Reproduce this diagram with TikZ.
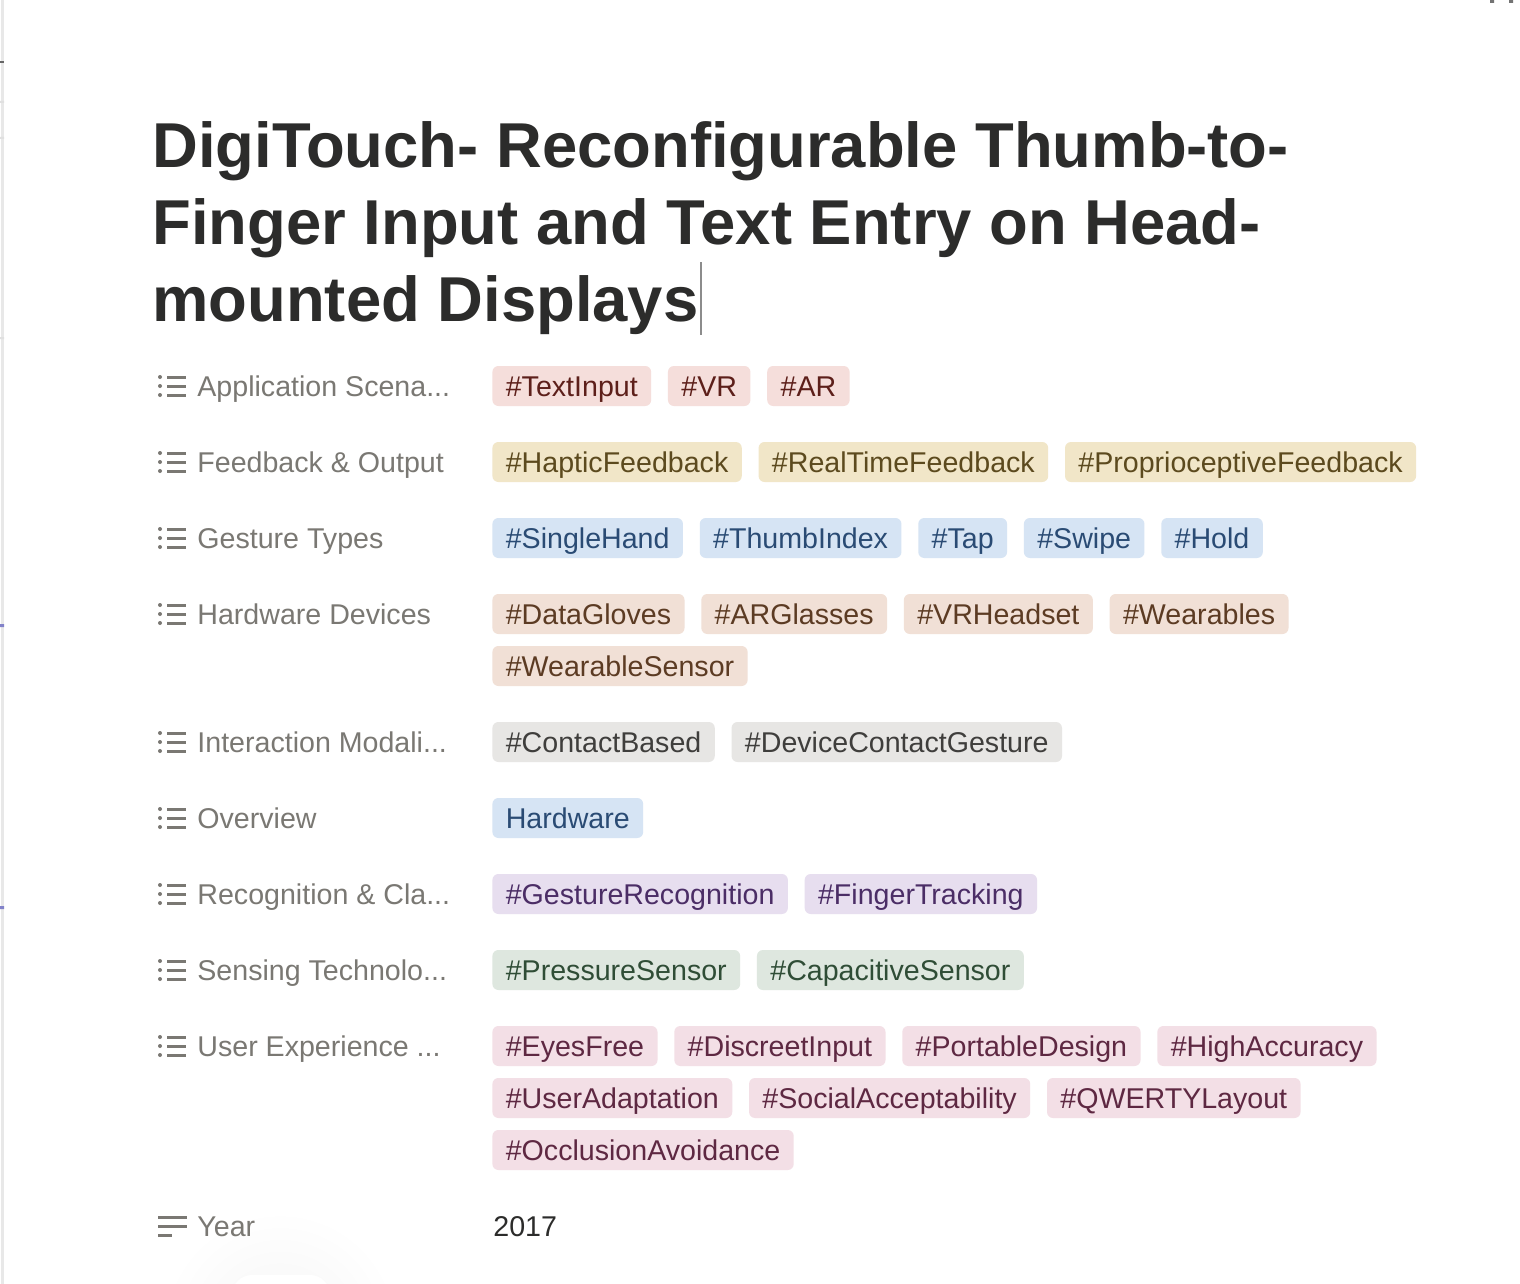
\documentclass[tikz,border=0pt]{standalone}
\usepackage{fontspec}
\setmainfont{Liberation Sans}
\usepackage{tikz}
\usetikzlibrary{positioning}
\definecolor{titleFg}{HTML}{2C2C2B}
\definecolor{labelFg}{HTML}{7A7873}
\definecolor{appBg}{HTML}{F5DEDB}
\definecolor{appFg}{HTML}{5D1F1A}
\definecolor{fbBg}{HTML}{F1E6C8}
\definecolor{fbFg}{HTML}{5C4A1E}
\definecolor{gtBg}{HTML}{D6E4F4}
\definecolor{gtFg}{HTML}{2A4B74}
\definecolor{hwBg}{HTML}{F1E0D6}
\definecolor{hwFg}{HTML}{5C3B23}
\definecolor{imBg}{HTML}{E7E6E4}
\definecolor{imFg}{HTML}{3F3E3C}
\definecolor{rcBg}{HTML}{E7DEEF}
\definecolor{rcFg}{HTML}{4B2D66}
\definecolor{snBg}{HTML}{DEE7DF}
\definecolor{snFg}{HTML}{2F4D36}
\definecolor{uxBg}{HTML}{F3DFE6}
\definecolor{uxFg}{HTML}{5E2842}
\newcommand\chipfont{\fontsize{14.3pt}{17pt}\selectfont}
\newcommand\titlefont{\fontsize{31.7pt}{38.5pt}\selectfont\bfseries}
\tikzset{
  tagchip/.style={rectangle,rounded corners=3pt,minimum height=20pt,inner xsep=6.7pt,inner ysep=0pt,text height=10.3pt,text depth=0pt,font=\chipfont},
  app/.style={tagchip,fill=appBg,text=appFg},
  fb/.style={tagchip,fill=fbBg,text=fbFg},
  gt/.style={tagchip,fill=gtBg,text=gtFg},
  hw/.style={tagchip,fill=hwBg,text=hwFg},
  im/.style={tagchip,fill=imBg,text=imFg},
  rc/.style={tagchip,fill=rcBg,text=rcFg},
  sn/.style={tagchip,fill=snBg,text=snFg},
  ux/.style={tagchip,fill=uxBg,text=uxFg},
  proplabel/.style={anchor=west,inner sep=0pt,text height=10.3pt,text depth=0pt,font=\chipfont,text=labelFg},
  propicon/.pic={
    \fill[labelFg] (3,-9) circle (2) (3,0) circle (2) (3,9) circle (2);
    \draw[labelFg,line width=1.5pt] (10,-9) -- (29,-9) (10,0) -- (29,0) (10,9) -- (29,9);
  },
  node distance=8pt
}
\begin{document}
\begin{tikzpicture}[x=0.5pt,y=-0.5pt]
\useasboundingbox[fill=white] (0,0) rectangle (1520,1284);
\draw[line width=1.5pt,color=black!9] (2,0) -- (2,1284);
\fill[black!60] (0,61) rectangle (4,63);
\fill[black!12] (0,101) rectangle (4,103) (0,137) rectangle (4,139) (0,337) rectangle (4,339);
\fill[blue!40!gray!70] (0,624) rectangle (4,627) (0,906) rectangle (4,909);
\fill[black!55] (1490,0) rectangle (1494,3) (1509,0) rectangle (1513,3);
\shade[inner color=black!4,outer color=white] (280,1330) circle (120);
\fill[white] (232,1284) -- (232,1285) [rounded corners=10pt] -- (232,1275) -- (330,1275) [sharp corners] -- (330,1285);
\node[anchor=north west,inner sep=0pt,align=left,font=\titlefont,text=titleFg](title) at (152,121){DigiTouch- Reconfigurable Thumb-to-\\Finger Input and Text Entry on Head-\\mounted Displays};
\draw[line width=1pt,color=black!45] (701,262) -- (701,335);

\pic at (157,386) {propicon};
\node[proplabel](lapp) at (197,386){Application Scena...};
\node[app,anchor=west](app1) at (492,386){\#TextInput};
\node[app,right=of app1](app2){\#VR};
\node[app,right=of app2](app3){\#AR};

\pic at (157,462) {propicon};
\node[proplabel](lfb) at (197,462){Feedback \& Output};
\node[fb,anchor=west](fb1) at (492,462){\#HapticFeedback};
\node[fb,right=of fb1](fb2){\#RealTimeFeedback};
\node[fb,right=of fb2](fb3){\#ProprioceptiveFeedback};

\pic at (157,538) {propicon};
\node[proplabel](lgt) at (197,538){Gesture Types};
\node[gt,anchor=west](gt1) at (492,538){\#SingleHand};
\node[gt,right=of gt1](gt2){\#ThumbIndex};
\node[gt,right=of gt2](gt3){\#Tap};
\node[gt,right=of gt3](gt4){\#Swipe};
\node[gt,right=of gt4](gt5){\#Hold};

\pic at (157,614) {propicon};
\node[proplabel](lhw) at (197,614){Hardware Devices};
\node[hw,anchor=west](hw1) at (492,614){\#DataGloves};
\node[hw,right=of hw1](hw2){\#ARGlasses};
\node[hw,right=of hw2](hw3){\#VRHeadset};
\node[hw,right=of hw3](hw4){\#Wearables};
\node[hw,anchor=west](hw5) at (492,666){\#WearableSensor};

\pic at (157,742) {propicon};
\node[proplabel](lim) at (197,742){Interaction Modali...};
\node[im,anchor=west](im1) at (492,742){\#ContactBased};
\node[im,right=of im1](im2){\#DeviceContactGesture};

\pic at (157,818) {propicon};
\node[proplabel](lov) at (197,818){Overview};
\node[gt,anchor=west](ov1) at (492,818){Hardware};

\pic at (157,894) {propicon};
\node[proplabel](lrc) at (197,894){Recognition \& Cla...};
\node[rc,anchor=west](rc1) at (492,894){\#GestureRecognition};
\node[rc,right=of rc1](rc2){\#FingerTracking};

\pic at (157,970) {propicon};
\node[proplabel](lsn) at (197,970){Sensing Technolo...};
\node[sn,anchor=west](sn1) at (492,970){\#PressureSensor};
\node[sn,right=of sn1](sn2){\#CapacitiveSensor};

\pic at (157,1046) {propicon};
\node[proplabel](lux) at (197,1046){User Experience ...};
\node[ux,anchor=west](ux1) at (492,1046){\#EyesFree};
\node[ux,right=of ux1](ux2){\#DiscreetInput};
\node[ux,right=of ux2](ux3){\#PortableDesign};
\node[ux,right=of ux3](ux4){\#HighAccuracy};
\node[ux,anchor=west](ux5) at (492,1098){\#UserAdaptation};
\node[ux,right=of ux5](ux6){\#SocialAcceptability};
\node[ux,right=of ux6](ux7){\#QWERTYLayout};
\node[ux,anchor=west](ux8) at (492,1150){\#OcclusionAvoidance};

\draw[labelFg,line width=1.5pt] (158,1217) -- (187,1217) (158,1226) -- (187,1226) (158,1235) -- (172,1235);
\node[proplabel](lyr) at (197,1226){Year};
\node[proplabel,text=titleFg](yr) at (493,1226){2017};
\end{tikzpicture}
\end{document}
